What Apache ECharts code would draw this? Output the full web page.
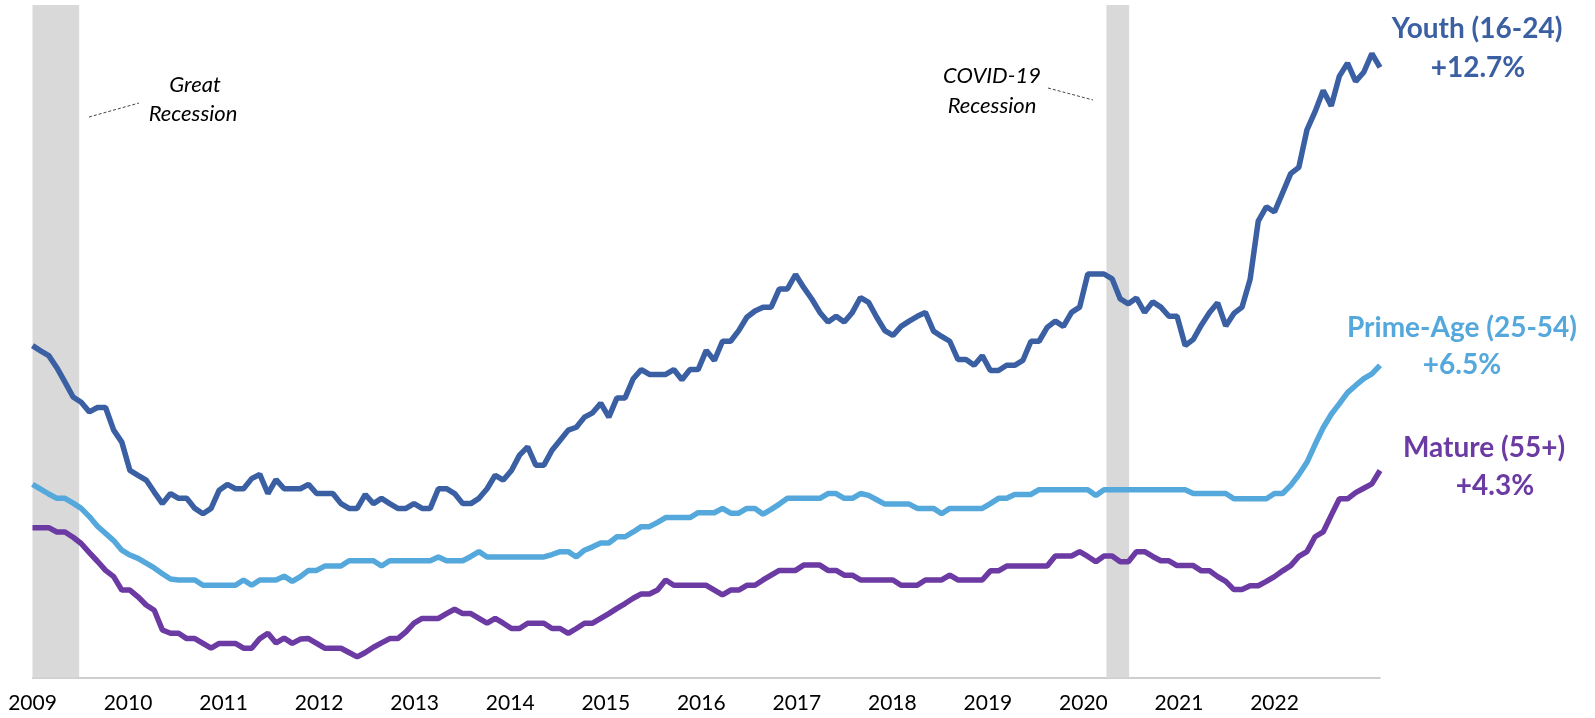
<!DOCTYPE html>
<html lang="en">
<head>
<meta charset="UTF-8">
<title>Wage growth by age group</title>
<script src="https://cdn.jsdelivr.net/npm/echarts@6/dist/echarts.min.js"></script>
<style>
    html, body {
        margin: 0;
        padding: 0;
        background: #fff;
    }
    #chart {
        width: 1595px;
        height: 718px;
    }
</style>
</head>
<body>
<div id="chart"></div>
<script>
    // monthly points, Jan 2009 .. Nov 2022 (index 0 = Jan 2009)
    var years = ['2009', '2010', '2011', '2012', '2013', '2014', '2015',
        '2016', '2017', '2018', '2019', '2020', '2021', '2022'];

    var youth = [
        6.91, 6.80, 6.70, 6.45, 6.15, 5.84, 5.73, 5.53, 5.62, 5.62, 5.15, 4.90,
        4.31, 4.21, 4.11, 3.86, 3.62, 3.83, 3.73, 3.73, 3.52, 3.41, 3.52, 3.90,
        4.02, 3.93, 3.93, 4.14, 4.23, 3.83, 4.12, 3.93, 3.93, 3.93, 4.02, 3.83,
        3.83, 3.83, 3.62, 3.52, 3.52, 3.81, 3.62, 3.73, 3.62, 3.52, 3.52, 3.62,
        3.52, 3.52, 3.93, 3.93, 3.83, 3.62, 3.62, 3.73, 3.93, 4.21, 4.11, 4.31,
        4.63, 4.80, 4.42, 4.42, 4.73, 4.94, 5.15, 5.21, 5.42, 5.51, 5.71, 5.42,
        5.82, 5.82, 6.22, 6.41, 6.31, 6.31, 6.31, 6.41, 6.20, 6.41, 6.41, 6.81,
        6.60, 7.00, 7.00, 7.22, 7.50, 7.63, 7.71, 7.71, 8.09, 8.09, 8.39, 8.12,
        7.88, 7.60, 7.40, 7.52, 7.40, 7.60, 7.91, 7.81, 7.50, 7.22, 7.12, 7.31,
        7.42, 7.52, 7.60, 7.21, 7.10, 7.00, 6.62, 6.62, 6.50, 6.70, 6.39, 6.39,
        6.50, 6.50, 6.60, 7.00, 7.00, 7.29, 7.42, 7.31, 7.60, 7.71, 8.40, 8.40,
        8.40, 8.30, 7.88, 7.78, 7.90, 7.60, 7.82, 7.71, 7.52, 7.52, 6.91, 7.04,
        7.34, 7.60, 7.80, 7.32, 7.58, 7.71, 8.29, 9.50, 9.80, 9.69, 10.09, 10.49,
        10.62, 11.40, 11.78, 12.22, 11.90, 12.52, 12.79, 12.41, 12.60, 12.99, 12.70
    ];

    var primeAge = [
        4.02, 3.92, 3.82, 3.73, 3.73, 3.63, 3.52, 3.35, 3.15, 3.00, 2.85, 2.65,
        2.55, 2.48, 2.38, 2.28, 2.16, 2.05, 2.03, 2.03, 2.03, 1.92, 1.92, 1.92,
        1.92, 1.92, 2.03, 1.92, 2.03, 2.03, 2.03, 2.11, 2.00, 2.10, 2.23, 2.23,
        2.32, 2.32, 2.32, 2.43, 2.43, 2.43, 2.43, 2.32, 2.43, 2.43, 2.43, 2.43,
        2.43, 2.43, 2.51, 2.43, 2.43, 2.43, 2.52, 2.62, 2.51, 2.51, 2.51, 2.51,
        2.51, 2.51, 2.51, 2.51, 2.56, 2.62, 2.62, 2.51, 2.65, 2.72, 2.80, 2.80,
        2.93, 2.93, 3.03, 3.14, 3.14, 3.23, 3.33, 3.33, 3.33, 3.33, 3.43, 3.43,
        3.43, 3.52, 3.42, 3.42, 3.52, 3.52, 3.40, 3.50, 3.61, 3.73, 3.73, 3.73,
        3.73, 3.73, 3.83, 3.83, 3.73, 3.73, 3.83, 3.79, 3.70, 3.61, 3.61, 3.61,
        3.61, 3.52, 3.52, 3.52, 3.41, 3.52, 3.52, 3.52, 3.52, 3.52, 3.62, 3.73,
        3.73, 3.81, 3.81, 3.81, 3.91, 3.91, 3.91, 3.91, 3.91, 3.91, 3.91, 3.79,
        3.91, 3.91, 3.91, 3.91, 3.91, 3.91, 3.91, 3.91, 3.91, 3.91, 3.91, 3.83,
        3.83, 3.83, 3.83, 3.83, 3.72, 3.72, 3.72, 3.72, 3.72, 3.83, 3.83, 4.00,
        4.22, 4.48, 4.85, 5.20, 5.48, 5.70, 5.93, 6.08, 6.22, 6.32, 6.50
    ];

    var mature = [
        3.12, 3.12, 3.12, 3.03, 3.03, 2.92, 2.79, 2.60, 2.42, 2.23, 2.10, 1.82,
        1.82, 1.68, 1.51, 1.40, 0.99, 0.92, 0.92, 0.81, 0.81, 0.71, 0.61, 0.71,
        0.71, 0.71, 0.61, 0.61, 0.81, 0.92, 0.72, 0.82, 0.71, 0.80, 0.81, 0.71,
        0.61, 0.61, 0.61, 0.52, 0.43, 0.52, 0.63, 0.72, 0.81, 0.81, 0.95, 1.13,
        1.23, 1.23, 1.23, 1.33, 1.42, 1.33, 1.33, 1.23, 1.13, 1.23, 1.13, 1.02,
        1.02, 1.13, 1.13, 1.13, 1.02, 1.02, 0.92, 1.02, 1.13, 1.13, 1.23, 1.33,
        1.44, 1.54, 1.65, 1.74, 1.74, 1.82, 2.03, 1.92, 1.92, 1.92, 1.92, 1.92,
        1.82, 1.72, 1.82, 1.82, 1.92, 1.92, 2.03, 2.13, 2.23, 2.23, 2.23, 2.34,
        2.34, 2.34, 2.23, 2.23, 2.13, 2.13, 2.03, 2.03, 2.03, 2.03, 2.03, 1.92,
        1.92, 1.92, 2.03, 2.03, 2.03, 2.13, 2.03, 2.03, 2.03, 2.03, 2.22, 2.22,
        2.32, 2.32, 2.32, 2.32, 2.32, 2.32, 2.53, 2.53, 2.53, 2.62, 2.52, 2.41,
        2.53, 2.53, 2.41, 2.41, 2.62, 2.62, 2.52, 2.43, 2.43, 2.33, 2.33, 2.33,
        2.22, 2.22, 2.10, 2.00, 1.83, 1.83, 1.91, 1.91, 2.00, 2.10, 2.22, 2.33,
        2.52, 2.62, 2.93, 3.03, 3.38, 3.72, 3.72, 3.85, 3.94, 4.03, 4.31
    ];

    // recession shading, in month index
    var recessions = [[0, 5.75], [132.3, 135.1]];

    var seriesNames = ['Youth (16-24)', 'Prime-Age (25-54)', 'Mature (55+)'];
    var latest = ['+12.7%', '+6.5%', '+4.3%'];
    var colors = ['#3A5FA3', '#55A8DC', '#6C3AA3'];

    function toPoints(arr) {
        return arr.map(function (v, i) {
            return [i, v];
        });
    }

    var myChart = echarts.init(document.getElementById('chart'));

    var font = 'Lato, "Open Sans", sans-serif';
    var labelFont = 'bold 28px ' + font;
    var noteFont = 'italic 22px ' + font;

    option = {
        animation: false,
        backgroundColor: '#fff',
        grid: {
            left: 32.5,
            right: 215,
            top: 5,
            bottom: 40.5
        },
        xAxis: [
            {
                type: 'value',
                min: 0,
                max: youth.length - 1,
                axisLine: {show: true, lineStyle: {color: '#BFBFBF', width: 1.5}},
                axisTick: {show: false},
                axisLabel: {show: false},
                splitLine: {show: false}
            },
            {
                // year labels
                type: 'value',
                position: 'bottom',
                min: 0,
                max: 14.104,
                interval: 1,
                axisLine: {show: false},
                axisTick: {show: false},
                splitLine: {show: false},
                axisLabel: {
                    margin: 15,
                    color: '#000',
                    fontFamily: font,
                    fontSize: 21,
                    showMaxLabel: false,
                    formatter: function (v) {
                        return years[v] || '';
                    }
                }
            }
        ],
        yAxis: {
            type: 'value',
            min: 0,
            max: 14,
            show: false
        },
        series: [
            {
                name: seriesNames[0],
                type: 'line',
                data: toPoints(youth),
                showSymbol: false,
                lineStyle: {color: colors[0], width: 5.5},
                z: 3,
                markArea: {
                    silent: true,
                    itemStyle: {color: '#D9D9D9'},
                    data: recessions.map(function (r) {
                        return [{xAxis: r[0], yAxis: 0}, {xAxis: r[1], yAxis: 14}];
                    })
                }
            },
            {
                name: seriesNames[1],
                type: 'line',
                data: toPoints(primeAge),
                showSymbol: false,
                lineStyle: {color: colors[1], width: 5.5},
                z: 3
            },
            {
                name: seriesNames[2],
                type: 'line',
                data: toPoints(mature),
                showSymbol: false,
                lineStyle: {color: colors[2], width: 5.5},
                z: 3
            }
        ],
        graphic: [
            // series labels on the right
            {type: 'text', x: 1477, y: 29, style: {text: seriesNames[0], fill: colors[0], font: labelFont, textAlign: 'center', textVerticalAlign: 'middle'}},
            {type: 'text', x: 1478, y: 68, style: {text: latest[0], fill: colors[0], font: labelFont, textAlign: 'center', textVerticalAlign: 'middle'}},
            {type: 'text', x: 1462, y: 328, style: {text: seriesNames[1], fill: colors[1], font: labelFont, textAlign: 'center', textVerticalAlign: 'middle'}},
            {type: 'text', x: 1462, y: 365, style: {text: latest[1], fill: colors[1], font: labelFont, textAlign: 'center', textVerticalAlign: 'middle'}},
            {type: 'text', x: 1484, y: 448, style: {text: seriesNames[2], fill: colors[2], font: labelFont, textAlign: 'center', textVerticalAlign: 'middle'}},
            {type: 'text', x: 1495, y: 486, style: {text: latest[2], fill: colors[2], font: labelFont, textAlign: 'center', textVerticalAlign: 'middle'}},

            // recession notes
            {type: 'text', x: 195, y: 85, style: {text: 'Great', fill: '#000', font: noteFont, textAlign: 'center', textVerticalAlign: 'middle'}},
            {type: 'text', x: 193, y: 114, style: {text: 'Recession', fill: '#000', font: noteFont, textAlign: 'center', textVerticalAlign: 'middle'}},
            {type: 'line', shape: {x1: 89, y1: 117, x2: 139, y2: 103}, style: {stroke: '#444', lineWidth: 1, lineDash: [3, 2]}},
            {type: 'text', x: 992, y: 76, style: {text: 'COVID-19', fill: '#000', font: noteFont, textAlign: 'center', textVerticalAlign: 'middle'}},
            {type: 'text', x: 992, y: 106, style: {text: 'Recession', fill: '#000', font: noteFont, textAlign: 'center', textVerticalAlign: 'middle'}},
            {type: 'line', shape: {x1: 1048, y1: 88, x2: 1093, y2: 100}, style: {stroke: '#444', lineWidth: 1, lineDash: [3, 2]}}
        ]
    };

    myChart.setOption(option);
</script>
</body>
</html>
